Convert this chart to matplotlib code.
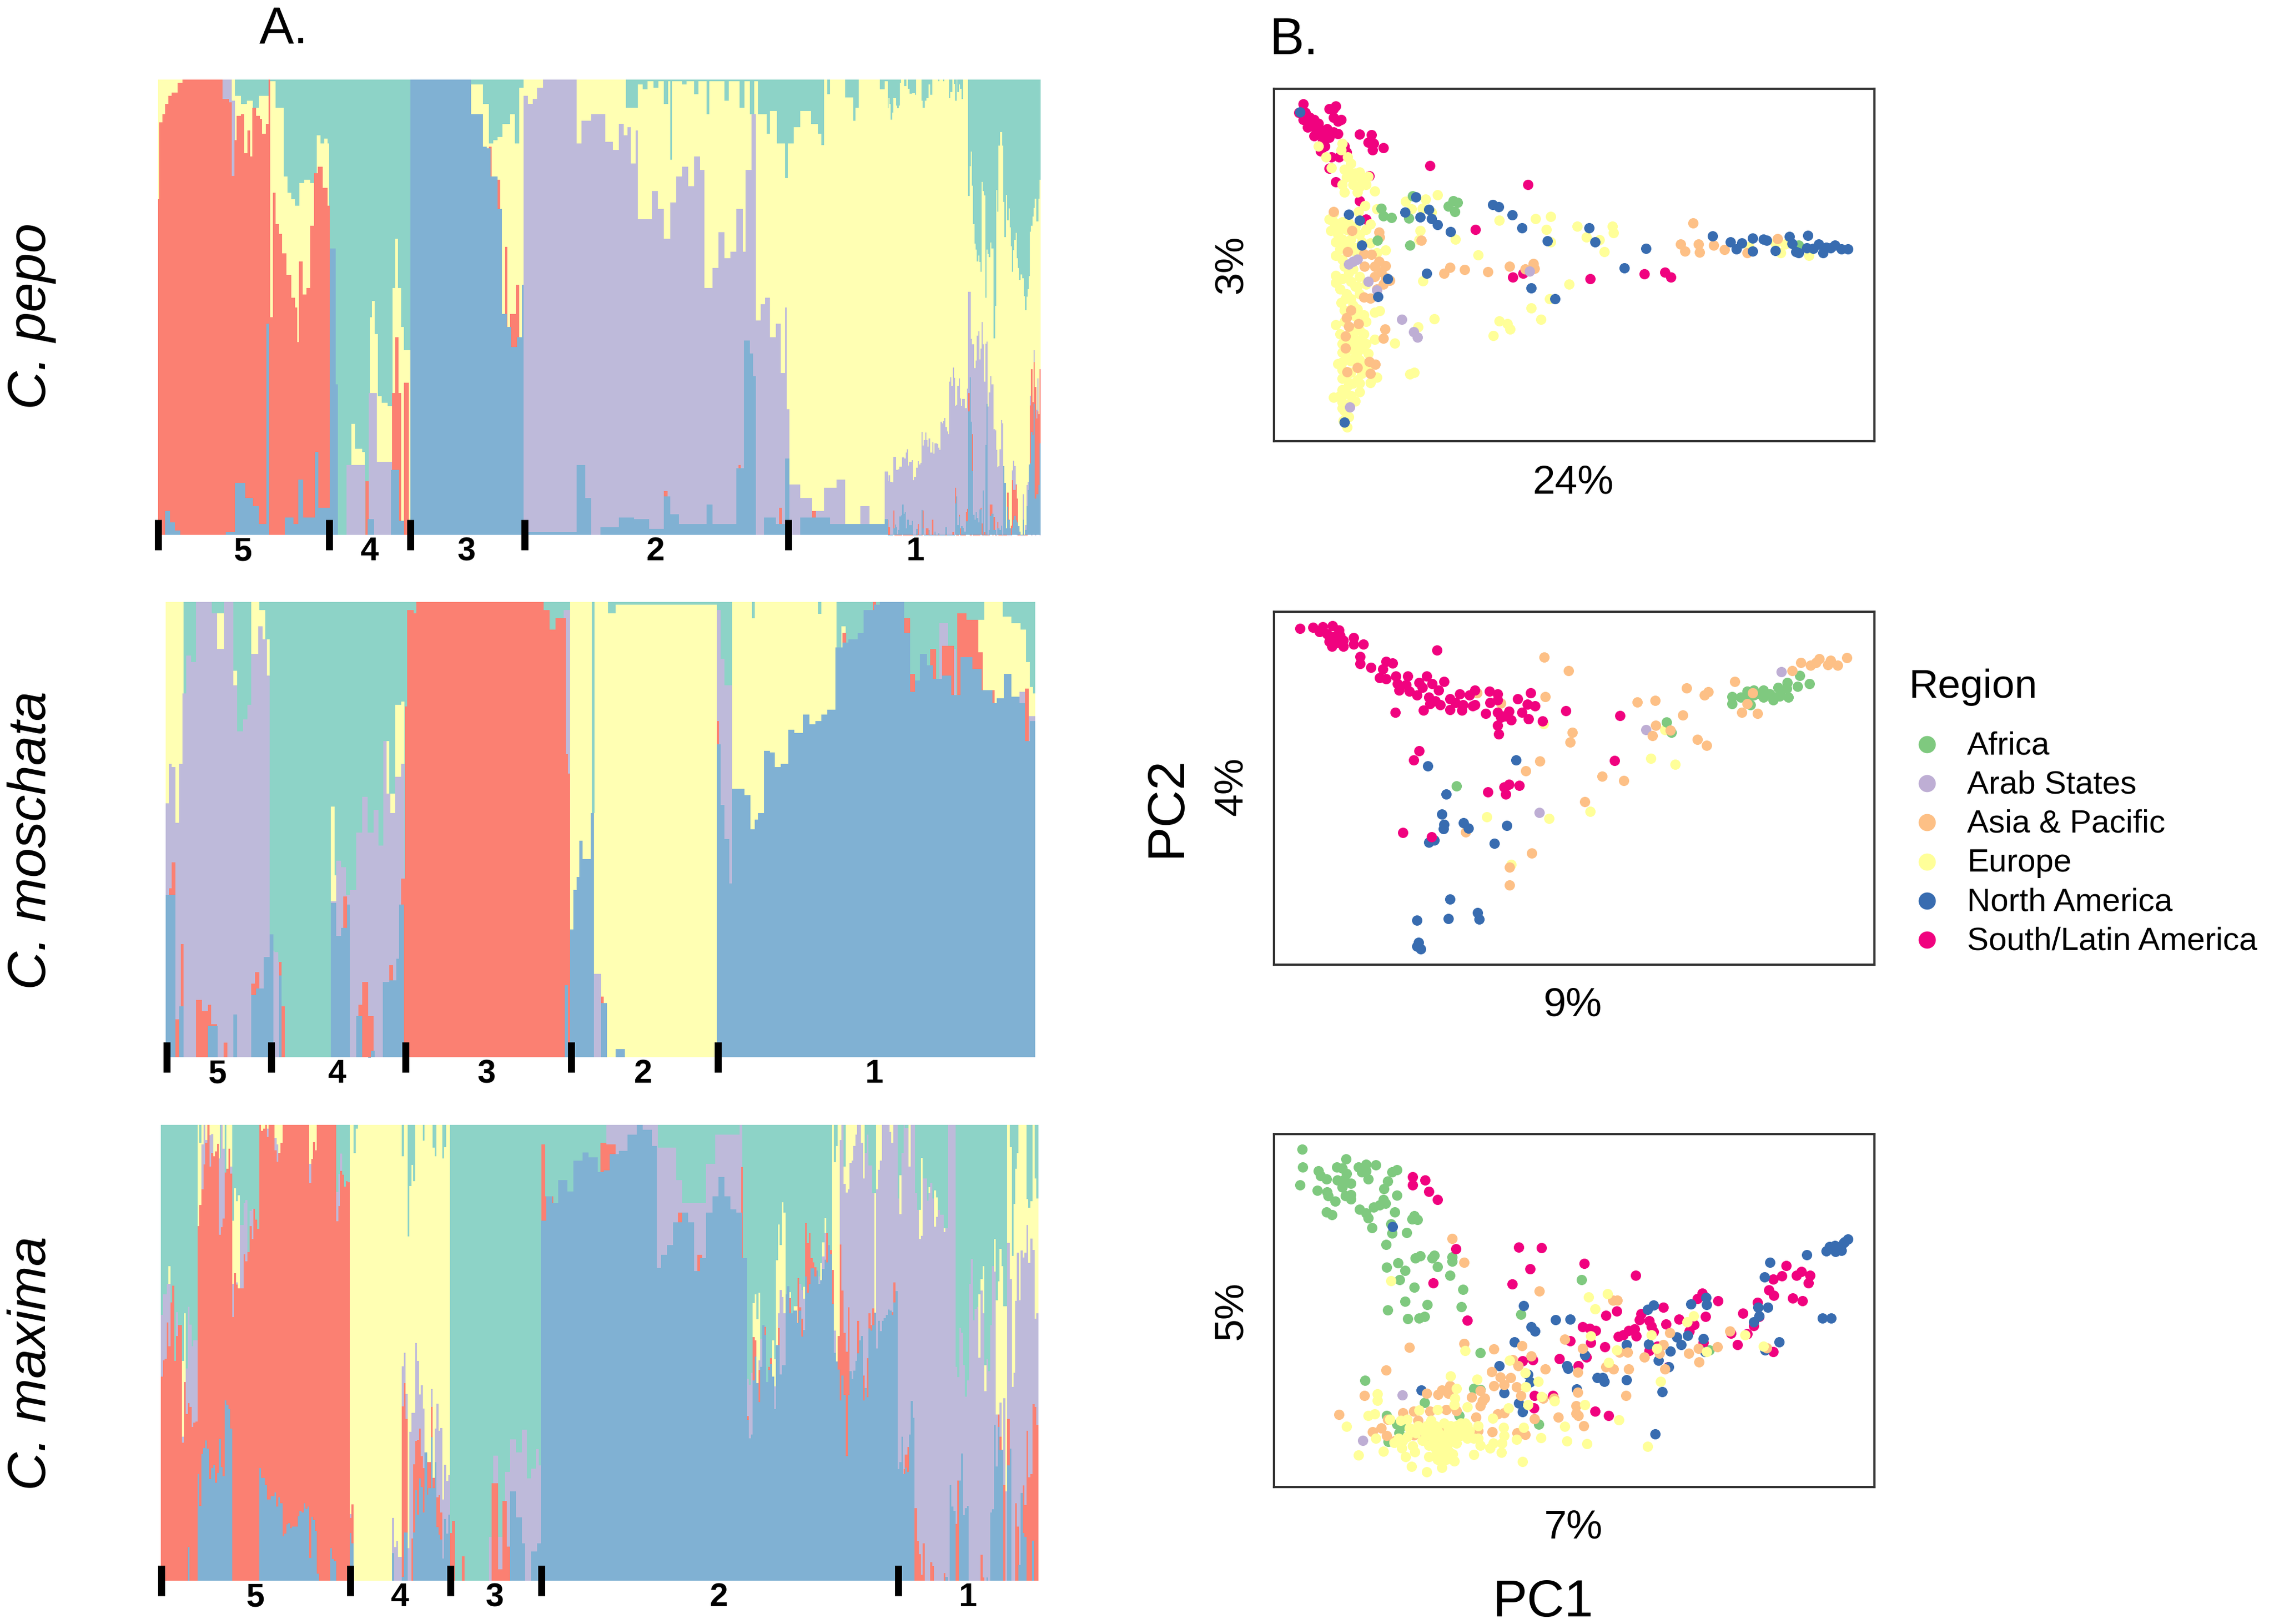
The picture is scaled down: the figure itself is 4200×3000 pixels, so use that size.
import matplotlib
matplotlib.use("Agg")
import matplotlib.pyplot as plt
import numpy as np

plt.rcParams["font.family"] = ["Liberation Sans", "DejaVu Sans"]

W, H = 4200, 3000

# colours
TEAL, YELLOW, PURPLE, SALMON, BLUE = "#8DD3C7", "#FFFFB3", "#BEBADA", "#FB8072", "#80B1D3"
regions = ["Africa", "Arab States", "Asia & Pacific", "Europe", "North America", "South/Latin America"]
region_cols = ["#7FC97F", "#BEAED4", "#FDC086", "#FFFF99", "#386CB0", "#F0027F"]

# ---- ancestry plots: upper edge of each colour (the scale runs
# downward from the top of each plot). teal fills whatever is left
pepo_yellow = [(38,45),(165,95),(175,120),(185,110),(195,130),(205,95),(222,50),(232,130),(246,340),(252,390),(258,410),(265,430),(272,360),(280,350),(290,360),(300,215),(307,240),(313,225),(318,240),(321,440),(322,1433),(358,1095),(364,1170),(376,1180),(380,1433),(388,770),(392,720),(396,820),(402,1010),(408,1030),(418,1040),(426,680),(430,530),(435,680),(440,800),(445,870),(455,1433),(556,60),(575,120),(585,240),(592,230),(600,220),(608,180),(620,150),(628,240),(635,70),(643,45),(812,130),(832,60),(840,75),(848,50),(858,70),(866,50),(875,120),(882,50),(885,290),(888,50),(905,60),(912,50),(925,90),(932,50),(945,150),(950,50),(975,110),(982,50),(1000,130),(1008,50),(1017,150),(1024,50),(1030,150),(1045,210),(1050,140),(1062,240),(1075,345),(1080,240),(1090,190),(1100,140),(1118,180),(1130,210),(1135,245),(1140,45),(1145,90),(1150,45),(1175,100),(1188,170),(1192,130),(1197,45),(1232,75),(1240,50)]
pepo_purple = [(38,1433),(145,45),(160,110),(165,1433),(322,1433),(350,1220),(380,1433),(386,1000),(400,1210),(425,1433),(643,95),(650,120),(658,105),(665,70),(675,45),(730,240),(738,170),(745,170),(755,150),(770,150),(778,235),(790,260),(800,180),(808,215),(815,190),(820,300),(828,200),(832,470),(845,470),(855,385),(865,440),(875,530),(885,420),(895,340),(905,310),(915,370),(925,280),(935,320),(942,680),(955,620),(965,510),(975,590),(985,570),(995,440),(1005,570),(1010,320),(1020,150),(1027,780),(1035,730),(1042,710),(1050,830),(1060,790),(1068,940),(1075,740),(1078,1050),(1082,1280),(1100,1320),(1120,1360),(1140,1290),(1160,1265),(1175,1400),(1200,1345),(1215,1433),(1240,1240)]
pepo_salmon = [(38,410),(40,175),(45,150),(50,120),(55,95),(60,85),(70,55),(78,45),(145,105),(155,115),(160,338),(164,230),(168,155),(175,150),(180,270),(186,200),(190,280),(194,130),(200,155),(206,165),(210,210),(216,180),(221,45),(223,770),(228,390),(232,485),(238,515),(243,575),(250,640),(258,710),(265,740),(268,845),(271,600),(277,700),(283,680),(290,490),(296,330),(302,310),(310,375),(318,430),(322,1433),(381,1270),(386,1433),(425,1000),(430,830),(436,1000),(440,1433),(445,970),(453,1433),(585,250),(590,340),(597,350),(604,1433),(612,555),(616,1433),(620,760),(630,670),(635,1433),(875,1300),(881,1433),(998,1220),(1002,1433),(1065,1350),(1070,1433),(1120,1360),(1126,1433)]
pepo_blue = [(38,1433),(50,1360),(58,1395),(66,1420),(75,1433),(150,1425),(165,1275),(182,1320),(195,1345),(205,1400),(217,790),(222,1433),(248,1380),(262,1400),(270,1265),(278,1380),(298,1180),(303,1350),(322,560),(332,975),(335,1433),(385,1385),(395,1433),(423,1235),(437,1390),(445,1433),(455,45),(556,150),(575,250),(582,255),(588,340),(600,440),(607,760),(615,800),(622,860),(632,830),(640,670),(643,1425),(730,1220),(745,1320),(755,1433),(770,1410),(800,1380),(825,1385),(850,1415),(875,1315),(885,1370),(900,1400),(945,1340),(955,1400),(995,1230),(1007,840),(1017,880),(1022,950),(1027,1433),(1040,1380),(1060,1400),(1075,1200),(1082,1433),(1100,1380),(1150,1400),(1240,1385)]
# right end of C. pepo, from a finer crop
pepo_end_yellow = [(0,110),(4,75),(10,95),(15,148),(24,125),(30,75),(44,100),(52,110),(60,100),(65,25),(72,13),(90,35),(103,13),(111,45),(119,60),(135,58),(150,65),(157,13),(186,85),(193,108),(203,85),(213,75),(226,30),(233,65),(245,13),(280,18),(286,13),(305,18),(312,13),(338,75),(346,55),(358,13),(365,28),(372,85),(380,13),(384,55),(392,30),(400,45),(407,78),(417,13),(445,405),(453,305),(460,255),(466,370),(472,500),(479,565),(486,585),(492,625),(500,605),(507,627),(512,660),(519,358),(525,388),(532,403),(540,748),(546,585),(552,600),(559,612),(566,562),(573,582),(585,885),(593,775),(600,385),(606,458),(613,235),(620,190),(632,235),(640,425),(646,543),(653,402),(660,487),(668,448),(674,510),(681,575),(688,660),(694,587),(700,553),(707,530),(714,615),(720,648),(727,687),(735,670),(745,682),(753,742),(760,790),(767,745),(774,718),(780,675),(786,525),(793,505),(800,475),(807,445),(814,415),(821,490),(835,415),(840,350)]
pepo_end_purple = [(0,1365),(4,1345),(12,1367),(24,1370),(30,1283),(44,1327),(56,1325),(64,1317),(79,1285),(90,1290),(98,1270),(104,1258),(111,1313),(118,1300),(132,1295),(139,1362),(145,1352),(157,1320),(165,1298),(172,1310),(179,1303),(186,1200),(193,1245),(199,1228),(206,1202),(213,1228),(219,1250),(226,1222),(233,1270),(245,1235),(252,1273),(259,1238),(272,1240),(279,1252),(285,1260),(292,1165),(299,1170),(305,1163),(312,1153),(319,1183),(326,1198),(332,1208),(339,1030),(346,1015),(352,1045),(359,983),(365,1017),(372,1112),(379,1108),(385,1045),(392,1020),(399,1087),(405,1113),(412,1088),(425,1120),(437,1055),(445,727),(458,887),(465,905),(478,985),(485,960),(492,875),(500,860),(506,955),(513,920),(519,830),(526,905),(532,1030),(540,903),(546,895),(552,1115),(559,1067),(566,1012),(573,1040),(585,1190),(593,1195),(600,1260),(606,1318),(613,1315),(619,1258),(627,1160),(633,1170),(640,1548),(686,1330),(693,1297),(700,1315),(707,1375),(714,1548),(746,1410),(753,1548),(760,1513),(767,1378),(774,1368),(786,1077),(793,1548),(800,1105),(807,925),(814,1548),(821,1125),(827,1020),(833,1140),(840,1548)]
pepo_end_salmon = [(0,1495),(4,1520),(12,1548),(30,1465),(36,1548),(79,1447),(84,1548),(165,1510),(170,1548),(192,1465),(198,1548),(210,1525),(226,1548),(243,1495),(252,1548),(358,1538),(365,1548),(372,1387),(379,1548),(392,1478),(399,1525),(405,1548),(433,1470),(438,1458),(445,1068),(453,1548),(465,1207),(471,1548),(513,1455),(519,1508),(525,1548),(532,1538),(540,1548),(565,1445),(579,1548),(586,1487),(593,1548),(606,1502),(613,1548),(660,1405),(668,1548),(672,1525),(680,1515),(687,1362),(694,1395),(707,1378),(714,1425),(721,1548),(774,1400),(780,1347),(786,1110),(793,988),(800,1100),(807,965),(814,1048),(821,1155),(827,1130),(833,1140),(840,988)]
pepo_end_blue = [(0,1548),(30,1525),(38,1512),(46,1520),(52,1545),(58,1530),(64,1485),(72,1480),(79,1445),(86,1475),(92,1470),(98,1525),(105,1495),(118,1513),(132,1498),(138,1548),(156,1527),(165,1548),(186,1462),(192,1525),(198,1548),(224,1530),(231,1548),(258,1535),(265,1548),(278,1540),(284,1548),(319,1520),(326,1548),(372,1440),(379,1417),(385,1513),(392,1485),(399,1548),(406,1518),(413,1522),(420,1535),(432,1500),(445,1130),(453,1015),(459,1165),(465,1332),(471,1478),(479,1495),(486,1470),(493,1490),(500,1505),(507,1460),(519,1548),(525,1397),(532,1548),(540,1243),(546,1105),(552,1548),(558,1530),(565,1483),(572,1475),(586,1530),(599,1548),(606,1525),(619,1530),(628,1515),(634,1548),(640,1315),(646,1372),(653,1525),(660,1452),(667,1495),(674,1525),(681,1548),(687,1522),(694,1495),(700,1482),(707,1497),(714,1505),(721,1518),(728,1535),(735,1548),(746,1495),(753,1548),(760,1530),(767,1450),(774,1395),(780,1310),(786,1305),(793,1200),(800,1210),(807,1105),(814,1425),(821,1410),(833,1378),(840,1238)]
pepo_ticks = [38, 321, 455, 644, 1081]
pepo_mid = [178, 387, 548, 861, 1290]

mosch_yellow = [(50,36),(80,1425),(125,70),(147,1425),(162,245),(168,1425),(192,36),(205,60),(215,150),(222,1425),(323,660),(330,870),(335,825),(340,1425),(365,745),(372,785),(378,1425),(415,460),(420,620),(430,350),(440,340),(445,1425),(709,265),(716,1425),(719,36),(755,680),(760,36),(782,70),(795,45),(962,1425),(987,36),(1020,85),(1025,36),(1130,72),(1135,36),(1160,1425),(1168,110),(1175,1425),(1282,275),(1290,1425),(1390,90),(1405,36),(1435,80),(1450,100),(1465,120),(1474,220),(1480,295),(1485,315)]
mosch_purple = [(50,650),(55,530),(60,540),(66,710),(72,530),(78,315),(84,200),(92,220),(100,36),(126,70),(135,180),(147,36),(162,290),(168,430),(178,395),(185,350),(192,195),(203,110),(210,150),(218,260),(222,1100),(230,1105),(236,1135),(240,1425),(323,950),(332,825),(340,845),(348,930),(355,915),(365,740),(375,630),(384,740),(394,670),(402,780),(410,460),(416,620),(422,680),(430,570),(440,530),(445,1425),(709,60),(719,1425),(759,1170),(770,1425),(962,60),(968,210),(975,290),(987,1425),(1330,100),(1345,180),(1358,1425),(1455,1425),(1463,310),(1472,1425),(1478,385)]
mosch_salmon = [(50,1425),(55,910),(60,830),(66,1310),(72,1425),(75,1080),(80,1425),(100,1250),(110,1285),(120,1265),(125,1325),(135,1425),(146,1380),(152,1425),(192,1200),(198,1165),(205,1425),(237,1135),(242,1270),(247,1425),(344,935),(350,1425),(369,1265),(375,1195),(385,1300),(394,1425),(420,1145),(426,1425),(440,880),(446,355),(450,60),(460,70),(465,36),(668,36),(675,60),(685,120),(695,85),(709,85),(712,500),(716,560),(719,1425),(770,1240),(775,1425),(800,1410),(806,1425),(962,400),(966,1425),(978,860),(983,1425),(1170,130),(1176,1425),(1220,36),(1226,1425),(1272,85),(1282,255),(1290,1425),(1315,180),(1325,1425),(1335,170),(1355,1425),(1360,70),(1375,90),(1395,190),(1402,1425),(1415,305),(1422,1425),(1472,300),(1478,1425)]
mosch_blue = [(50,930),(66,1425),(72,1270),(80,1425),(120,1330),(136,1425),(162,1295),(168,1425),(192,1235),(200,1215),(212,1120),(222,1050),(228,1425),(237,1175),(242,1425),(323,955),(332,1055),(340,1030),(350,960),(355,1425),(365,1300),(375,1425),(385,1430),(390,1405),(396,1425),(409,1195),(420,1190),(432,1125),(436,960),(444,1425),(710,1205),(716,1425),(719,1035),(725,915),(730,875),(735,765),(740,820),(753,680),(759,1425),(770,1260),(780,1425),(795,1400),(810,1425),(962,470),(968,655),(975,760),(983,895),(987,605),(1008,625),(1018,730),(1025,700),(1030,680),(1040,490),(1050,495),(1058,540),(1068,530),(1080,425),(1090,435),(1105,380),(1115,410),(1125,400),(1135,380),(1145,365),(1158,175),(1170,160),(1180,150),(1195,130),(1205,60),(1222,45),(1232,36),(1272,130),(1282,310),(1290,275),(1298,195),(1310,230),(1320,270),(1335,260),(1350,320),(1365,205),(1385,240),(1400,305),(1418,345),(1425,330),(1437,255),(1450,325),(1463,345),(1472,460),(1480,400)]
mosch_ticks = [52, 225, 447, 721, 964]
mosch_mid = [135, 333, 581, 840, 1222]

maxi_left_yellow = [(20,1550),(60,490),(70,1550),(130,810),(142,650),(152,1550),(190,745),(203,1550),(214,15),(222,75),(235,15),(265,1550),(275,15),(330,1550),(345,15),(355,1550),(365,15),(395,338),(405,228),(415,272),(425,252),(436,1550),(540,15),(945,1550),(1015,15),(1035,110),(1045,28),(1057,15),(1290,120),(1300,15),(1320,390),(1330,220),(1340,150),(1350,205),(1360,15),(1400,67),(1410,15),(1452,92),(1462,120),(1472,15),(1502,128),(1512,90),(1522,15),(1544,1550)]
maxi_left_purple = [(20,655),(30,585),(50,550),(70,612),(80,1550),(100,645),(110,1550),(130,1065),(142,880),(152,835),(162,628),(172,688),(182,760),(192,740),(214,1550),(235,80),(245,15),(255,65),(265,1550),(275,50),(285,45),(295,1550),(325,128),(335,15),(345,95),(355,1550),(385,155),(395,550),(405,1550),(415,545),(425,1550),(436,352),(456,278),(466,268),(476,1550),(488,305),(498,298),(506,1550),(580,28),(588,1550),(620,58),(630,80),(640,1550),(680,15),(690,1550),(730,15),(740,1550),(800,145),(812,1550),(945,240),(955,180),(965,112),(975,1550),(1015,1325),(1025,1550),(1238,1338),(1248,1437),(1260,1417),(1270,1470),(1288,828),(1300,783),(1310,920),(1320,1440),(1330,1048),(1340,985),(1360,750),(1370,810),(1380,922),(1390,892),(1400,970),(1410,1550),(1442,905),(1452,1550),(1462,1038),(1472,953),(1482,1045),(1492,1035),(1502,1277),(1512,1160),(1522,1215),(1534,1195),(1544,1550)]
maxi_left_salmon = [(20,863),(30,807),(40,802),(50,680),(60,760),(70,612),(80,557),(90,810),(100,725),(110,690),(130,1085),(142,880),(152,988),(162,952),(172,965),(182,1033),(192,1018),(202,1013),(214,355),(222,285),(235,232),(245,148),(255,75),(265,15),(275,155),(285,110),(295,120),(305,103),(315,78),(325,385),(335,360),(345,330),(355,175),(365,163),(375,95),(385,178),(395,662),(405,515),(415,553),(425,566),(456,450),(466,475),(476,443),(488,355),(498,400),(506,298),(516,333),(526,365),(540,15),(548,35),(558,27),(570,15),(580,55),(588,15),(620,100),(630,138),(640,110),(650,75),(660,15),(800,210),(812,130),(822,72),(832,100),(842,15),(945,340),(955,288),(965,170),(975,183),(985,222),(995,205),(1005,208),(1015,1338),(1025,1293),(1035,1550),(1288,962),(1300,885),(1310,1005),(1320,1550),(1340,1408),(1350,1158),(1360,1080),(1370,1075),(1380,1038),(1390,1130),(1400,1170),(1410,1150),(1442,965),(1452,1203),(1462,1550),(1470,1270),(1482,1262),(1492,1320),(1502,1550),(1544,1390),(1554,1350)]
maxi_left_blue = [(20,1550),(162,1437),(172,1550),(213,1190),(223,1298),(233,1123),(243,1103),(253,1078),(263,1105),(273,1208),(285,1170),(295,1160),(305,1220),(315,1188),(325,1072),(335,1167),(345,1198),(355,943),(365,958),(375,972),(385,1037),(395,1550),(540,1170),(548,1203),(568,1228),(578,1277),(598,1265),(618,1252),(628,1300),(638,1270),(648,1290),(660,1400),(670,1392),(680,1360),(690,1357),(700,1373),(710,1367),(740,1333),(750,1315),(760,1320),(772,1290),(782,1307),(792,1300),(802,1473),(812,1335),(822,1345),(832,1383),(842,1527),(852,1550),(912,1440),(922,1478),(932,1485),(945,1550),(1015,1390),(1025,1425),(1035,1550),(1238,1457),(1248,1550),(1288,1538),(1300,1388),(1320,1550),(1350,1388),(1360,1245),(1370,1328),(1380,1205),(1390,1235),(1400,1320),(1410,1118),(1422,1260),(1430,1238),(1442,1067),(1452,1238),(1462,1150),(1472,1370),(1482,1395),(1492,1412),(1502,1475),(1512,1343),(1522,1392),(1534,1328),(1544,1550)]

maxi_mid_yellow = [(529,1435)]
maxi_mid_purple = [(529,1435),(585,1300),(592,1050),(600,1300),(612,1100),(620,1000),(630,1040),(640,970),(648,1120),(655,1090),(663,1030),(668,1080),(671,1435),(780,30),(860,30),(865,100),(895,200),(905,270),(945,150),(960,60),(1000,30),(1005,1435)]
maxi_mid_salmon = [(529,1435),(540,1360),(545,1435),(590,1135),(600,1400),(608,1190),(615,1330),(620,1435),(672,90),(678,250),(692,330),(700,1435),(770,85),(780,90),(795,120),(800,1435),(898,300),(908,610),(915,1435),(930,430),(938,480),(943,1435),(1003,160),(1006,1435)]
maxi_mid_blue = [(529,1435),(608,1435),(620,1160),(630,1240),(640,1320),(645,1435),(655,1345),(665,1320),(671,325),(680,250),(690,270),(700,200),(715,235),(725,140),(740,115),(750,130),(765,175),(775,170),(785,120),(800,110),(815,60),(830,30),(840,45),(855,95),(863,470),(870,430),(880,400),(890,330),(905,300),(915,330),(925,480),(935,440),(945,300),(955,250),(965,190),(975,250),(985,290),(995,300),(1005,440)]

maxi_right_yellow = [(0,1550),(30,615),(40,585),(50,670),(60,580),(70,1550),(133,740),(143,805),(153,470),(163,350),(173,420),(183,275),(193,310),(203,1550),(222,578),(233,1550),(246,625),(265,1550),(295,560),(305,1550),(385,480),(395,410),(408,328),(416,1550),(448,15),(458,140),(468,85),(478,15),(498,1550),(508,155),(520,15),(620,1550),(670,245),(680,15),(795,1550),(803,185),(813,1550),(825,15),(832,1550),(850,15),(862,1550),(905,300),(915,125),(925,1550),(955,225),(965,1550),(985,235),(995,258),(1005,1550),(1035,362),(1045,1550),(1220,585),(1230,535),(1240,490),(1250,825),(1260,1550),(1300,400),(1310,605),(1320,542),(1330,432),(1342,490),(1350,625),(1370,15),(1385,90),(1395,455),(1403,280),(1412,163),(1422,110),(1431,15),(1472,265),(1482,293),(1492,272),(1505,15),(1515,195),(1525,262)]
maxi_right_purple = [(0,870),(10,890),(20,850),(30,1550),(60,808),(70,735),(80,690),(92,1550),(143,895),(153,1550),(163,650),(173,570),(183,595),(193,650),(203,1550),(265,530),(275,550),(285,570),(295,600),(305,1550),(376,525),(385,1550),(395,458),(408,380),(416,1550),(458,708),(468,1550),(488,65),(498,15),(508,213),(520,242),(530,232),(540,143),(550,135),(560,85),(570,47),(580,15),(600,75),(610,195),(620,110),(630,47),(640,152),(660,245),(670,1550),(680,232),(690,165),(700,135),(710,15),(750,38),(760,75),(772,15),(795,262),(803,315),(813,110),(825,15),(832,25),(850,155),(862,15),(885,245),(895,300),(905,400),(915,388),(925,195),(948,270),(955,245),(965,210),(975,262),(985,358),(995,325),(1005,300),(1015,318),(1035,375),(1045,362),(1058,15),(1098,830),(1108,865),(1118,698),(1128,715),(1138,825),(1148,930),(1158,875),(1170,550),(1180,467),(1190,672),(1200,635),(1210,628),(1220,798),(1230,572),(1240,650),(1250,912),(1260,805),(1270,845),(1280,690),(1290,490),(1300,508),(1310,990),(1330,950),(1340,1110),(1350,935),(1360,1250),(1370,412),(1385,535),(1395,898),(1403,850),(1412,608),(1422,445),(1432,605),(1442,438),(1452,462),(1462,445),(1472,352),(1482,480),(1492,398),(1505,435),(1515,668),(1525,650)]
maxi_right_salmon = [(0,995),(10,1550),(30,730),(40,740),(50,915),(60,840),(70,1550),(92,695),(102,1550),(112,830),(122,800),(132,1550),(163,698),(173,1550),(222,598),(233,1550),(265,530),(275,630),(285,667),(295,705),(305,345),(315,412),(325,380),(335,463),(345,478),(355,495),(365,1550),(416,380),(427,1550),(437,435),(448,503),(458,1550),(478,725),(488,418),(498,572),(508,715),(520,778),(530,630),(540,1550),(580,675),(590,1550),(610,858),(620,1550),(630,800),(640,650),(650,690),(660,632),(670,1550),(760,645),(772,545),(783,1550),(825,1175),(832,1125),(845,1100),(853,1550),(883,1305),(895,1417),(905,1460),(915,1530),(925,1425),(935,1550),(965,1488),(975,1500),(985,1550),(1035,1525),(1045,1550),(1098,1358),(1108,1212),(1118,1550),(1230,1463),(1240,1540),(1250,1550),(1320,990),(1330,1065),(1340,1550),(1350,1228),(1360,1550),(1370,1005),(1383,1550),(1412,1290),(1422,1367),(1432,1550),(1452,1230),(1462,1295),(1472,1045),(1482,1202),(1492,1190),(1505,955),(1515,965),(1525,1025)]
maxi_right_blue = [(0,1008),(10,1070),(20,1058),(30,875),(40,795),(50,885),(60,948),(70,830),(80,690),(92,722),(102,880),(112,840),(122,820),(132,862),(143,972),(153,757),(173,855),(183,825),(203,585),(213,558),(223,650),(243,640),(263,682),(273,640),(285,728),(295,705),(305,525),(315,580),(325,550),(335,497),(355,525),(365,505),(375,550),(385,538),(395,500),(408,468),(416,478),(427,420),(437,450),(448,618),(458,783),(468,812),(478,838),(488,942),(498,858),(508,925),(520,1130),(530,925),(540,845),(550,870),(560,842),(570,810),(580,785),(590,740),(600,725),(610,942),(620,900),(630,932),(640,700),(650,708),(660,690),(670,648),(680,768),(690,675),(700,710),(710,675),(720,665),(732,655),(742,637),(752,640),(762,655),(772,613),(783,575),(793,1175),(803,1150),(813,1065),(823,1190),(833,1168),(843,1183),(853,1057),(863,945),(873,1002),(883,1550),(1045,1537),(1058,1550),(1067,1228),(1077,1300),(1087,1315),(1098,1550),(1117,1213),(1128,1122),(1138,1330),(1148,1305),(1158,1298),(1168,1550),(1260,1540),(1270,1550),(1280,1320),(1290,1310),(1300,1025),(1310,1165),(1320,1033),(1330,1110),(1340,1108),(1350,1550),(1370,1162),(1383,1105),(1393,1550),(1430,1498),(1442,1255),(1452,1390),(1462,1402),(1472,1550),(1502,1415),(1512,1550)]
maxi_ticks = [43, 356, 522, 672, 1263]
maxi_mid = [198, 437, 595, 966, 1378]

# ---- PCA scores, picture units because the axes carry no scale
pc1_pink = [(135,135),(125,170),(140,170),(135,200),(150,190),(160,200),(145,230),(170,215),(175,240),(160,265),(185,260),(205,250),(215,255),(195,270),(180,285),(205,155),(195,155),(210,145),(205,190),(222,200),(215,205),(265,258),(292,260),(285,290),(298,295),(295,320),(320,312),(235,330),(175,325),(200,350),(218,350),(195,395),(288,425),(210,450),(428,385),(655,460),(265,525),(280,600),(533,640),(620,832),(643,818),(799,840),(924,820),(972,812),(986,833),(170,255),(185,305),(230,305),(190,235),(150,215),(165,240)]
pc1_blue = [(127,168),(395,510),(240,580),(265,605),(370,572),(425,560),(405,590),(432,598),(445,622),(476,650),(573,540),(587,550),(618,583),(641,635),(797,635),(700,687),(810,690),(928,717),(878,795),(421,817),(662,875),(717,920),(1082,668),(1124,690),(1150,695),(1175,675),(1200,680),(1208,685),(1260,670),(1267,697),(1303,665),(1138,720),(1175,727),(1228,726),(1275,730),(1282,735),(1300,715),(1315,718),(1328,700),(1338,735),(1345,712),(1365,705),(1380,720),(1395,720),(1355,715),(230,1415),(308,910),(330,840),(270,705)]
pc1_green = [(388,505),(482,525),(470,548),(492,533),(486,570),(315,555),(320,587),(339,593),(379,596),(382,705),(307,685),(1282,703)]
pc1_arab = [(250,770),(240,780),(260,760),(285,850),(305,885),(363,1002),(390,1052),(399,1075),(243,1355),(658,808)]
pc1_orange = [(205,570),(248,645),(310,652),(312,672),(408,685),(237,730),(275,738),(293,740),(310,770),(276,790),(300,790),(325,787),(315,810),(300,830),(325,835),(335,845),(320,860),(305,880),(275,912),(290,918),(474,793),(461,818),(508,803),(562,810),(612,790),(648,800),(667,777),(670,797),(245,965),(235,995),(240,1030),(262,1020),(324,1042),(320,1078),(232,1070),(233,1118),(287,1172),(302,1183),(260,1195),(236,1213),(290,1220),(1037,615),(1008,700),(1018,728),(1050,700),(1052,732),(1085,705),(1110,722),(1162,735),(1233,677)]
pc1_yellow = [(225,295),(170,305),(222,320),(187,350),(238,350),(200,393),(245,375),(240,405),(255,415),(235,430),(270,440),(285,428),(250,460),(280,460),(230,490),(260,490),(300,487),(445,502),(372,527),(418,518),(385,558),(410,555),(432,572),(305,558),(278,545),(262,570),(205,575),(195,600),(225,610),(240,615),(290,620),(198,645),(215,660),(280,640),(265,660),(225,680),(245,680),(270,690),(290,695),(405,645),(403,682),(487,680),(588,605),(673,598),(708,588),(697,640),(708,690),(769,628),(790,672),(820,683),(850,627),(853,655),(831,730),(540,743),(220,720),(210,745),(260,740),(325,723),(305,735),(230,790),(210,825),(240,815),(265,830),(210,855),(245,850),(280,860),(220,880),(260,870),(412,848),(750,860),(705,920),(662,957),(685,1002),(589,1008),(607,1020),(614,1042),(574,1068),(438,1000),(400,1033),(347,1098),(300,975),(312,968),(233,920),(222,935),(250,945),(255,990),(275,985),(210,1025),(265,1045),(245,1042),(220,1060),(275,1060),(300,1083),(225,1100),(255,1105),(280,1100),(225,1135),(260,1135),(285,1140),(215,1180),(245,1170),(275,1180),(225,1205),(285,1205),(225,1240),(260,1245),(305,1235),(290,1258),(240,1265),(225,1285),(265,1295),(245,1310),(205,1315),(225,1335),(230,1370),(240,1395),(228,1410),(236,1435),(382,1222),(392,1215),(1166,710),(1228,695),(1250,700),(1240,735),(1275,712),(1305,745),(230,400),(250,430),(265,410),(225,460),(265,470),(205,610),(215,630),(235,640),(255,630),(210,690),(235,705),(255,715),(225,760),(250,800),(225,840),(255,870),(235,900),(265,900),(245,920),(230,965),(260,960),(230,1010),(280,1010),(250,1075),(235,1090),(265,1085),(240,1125),(270,1120),(255,1155),(235,1160),(225,1175),(265,1165),(245,1215),(270,1220),(235,1230),(250,1260),(265,1260),(220,1310),(235,1300),(255,1330),(225,1360),(240,1345)]

pc2_pink = [(84,132),(103,128),(118,125),(133,122),(143,140),(113,145),(125,155),(135,165),(145,160),(128,185),(140,190),(150,180),(165,170),(165,195),(180,195),(132,205),(150,205),(292,220),(175,245),(175,275),(192,290),(215,265),(225,272),(210,295),(205,330),(215,335),(230,325),(248,325),(232,355),(245,360),(265,350),(277,325),(303,345),(285,355),(235,380),(250,385),(270,370),(295,380),(262,400),(280,410),(290,425),(312,415),(282,435),(297,440),(327,395),(350,380),(342,400),(372,385),(385,395),(415,415),(435,392),(430,437),(442,445),(320,430),(332,440),(350,440),(373,430),(385,420),(312,460),(330,462),(347,445),(367,475),(385,470),(402,465),(395,485),(405,500),(422,470),(432,497),(390,490),(385,522),(453,505),(386,558),(229,470),(272,462),(489,463),(571,483),(265,625),(257,662),(563,664),(395,770),(402,760),(418,764),(370,790),(397,800),(240,953),(284,970)]
pc2_blue = [(278,685),(413,662),(306,800),(300,880),(303,920),(302,938),(333,915),(340,937),(399,926),(288,983),(280,992),(380,998),(312,1222),(354,1275),(357,1302),(310,1300),(262,1307),(264,1395),(262,1412),(268,1422)]
pc2_green = [(845,322),(826,350),(842,365),(860,355),(742,408),(742,435),(755,410),(765,385),(775,380),(765,420),(775,400),(790,380),(790,410),(800,395),(812,370),(805,420),(815,395),(825,375),(828,410),(815,405),(785,395),(642,510),(650,550),(322,767),(770,440)]
pc2_arab = [(817,307),(611,540),(448,872)]
pc2_orange = [(456,247),(493,302),(353,392),(457,408),(390,432),(673,372),(700,400),(706,388),(746,346),(773,392),(765,435),(757,470),(781,475),(598,428),(625,422),(667,482),(626,522),(648,542),(621,563),(689,580),(703,602),(499,550),(495,590),(449,667),(428,706),(544,728),(577,745),(518,830),(336,952),(437,1037),(403,1092),(403,1165),(834,302),(847,270),(862,280),(875,255),(870,270),(888,278),(892,262),(903,280),(917,250)]
pc2_yellow = [(455,515),(640,540),(618,655),(655,680),(526,868),(463,898),(368,891),(405,1082)]

pc3_green = [(132,138),(133,210),(127,282),(170,225),(175,245),(188,258),(167,303),(190,310),(192,325),(209,347),(213,210),(234,178),(225,215),(235,235),(262,210),(280,200),(303,202),(270,230),(280,225),(285,257),(340,230),(351,220),(330,267),(322,298),(351,323),(214,262),(230,260),(245,275),(225,290),(232,325),(245,320),(245,338),(188,390),(201,402),(265,380),(280,395),(297,372),(312,362),(320,340),(325,355),(285,415),(346,391),(386,418),(392,405),(399,421),(294,453),(338,438),(340,476),(374,473),(327,521),(394,576),(405,568),(433,575),(438,565),(479,572),(479,588),(446,610),(328,612),(354,596),(370,625),(358,662),(391,694),(474,645),(505,703),(370,749),(422,762),(501,771),(330,785),(377,820),(403,817),(416,810),(779,662),(638,802),(545,957),(278,1067),(530,1100),(545,1105),(416,1157),(328,1210),(496,1210),(352,1245),(362,1252),(357,1280),(332,1315),(680,1244),(1075,947)]
pc3_pink = [(388,250),(388,282),(417,263),(425,308),(446,341),(488,538),(634,532),(686,534),(785,598),(660,620),(904,646),(618,680),(435,677),(515,827),(1253,607),(1243,648),(1222,660),(1276,645),(1288,630),(1308,645),(1304,675),(1212,705),(1224,727),(1268,736),(1290,748),(1186,755),(1058,718),(1047,738),(1095,747),(968,775),(1066,812),(1152,798),(917,800),(913,823),(936,828),(940,850),(860,789),(835,807),(975,842),(1005,822),(1040,843),(1028,870),(782,852),(798,858),(812,867),(945,873),(902,860),(905,890),(888,868),(876,885),(864,892),(1125,878),(1162,880),(1177,847),(1190,812),(753,908),(800,915),(833,933),(1061,915),(935,948),(955,930),(1140,924),(1223,953),(727,980),(790,975),(642,990),(666,985),(772,1010),(980,1013),(712,1128),(670,1130),(668,1180),(810,1193),(842,1209),(415,1302)]
pc3_blue = [(1395,500),(1385,515),(1300,562),(1345,547),(1353,530),(1365,525),(1367,550),(1381,545),(1388,510),(1215,594),(1203,652),(1337,817),(1357,817),(1210,773),(1187,775),(1190,808),(1178,832),(1067,735),(1068,762),(1032,761),(946,765),(932,783),(645,768),(719,823),(752,821),(662,852),(671,870),(1000,893),(1024,887),(1009,925),(1061,900),(883,925),(934,922),(985,950),(624,913),(787,966),(957,988),(1237,914),(1204,945),(1065,952),(745,1010),(747,1020),(588,1010),(981,1013),(815,1056),(828,1058),(831,1072),(883,1065),(655,1043),(660,1075),(768,1103),(966,1113),(408,1108),(600,1117),(634,1159),(642,1195),(950,1283),(342,450)]
pc3_orange = [(479,498),(507,593),(681,708),(851,745),(862,745),(380,936),(507,920),(576,941),(641,928),(740,903),(781,940),(867,955),(885,955),(968,925),(983,877),(1122,870),(1093,933),(1050,940),(1027,960),(960,960),(924,975),(1051,993),(972,1023),(662,970),(620,985),(632,1010),(695,1022),(770,1035),(835,1013),(853,1022),(888,1022),(326,1027),(571,1033),(591,1055),(615,1058),(576,1089),(600,1085),(628,1095),(638,1128),(276,1130),(420,1120),(447,1125),(455,1108),(474,1090),(470,1120),(525,1135),(545,1110),(550,1150),(555,1140),(545,1170),(690,1140),(715,1140),(770,1115),(882,1130),(766,1170),(766,1200),(772,1210),(725,1215),(670,1222),(784,1250),(218,1206),(365,1198),(390,1193),(428,1192),(465,1185),(490,1190),(585,1202),(600,1198),(295,1274),(315,1260),(328,1290),(390,1287),(345,1312),(450,1275),(540,1270),(572,1274),(630,1280),(648,1285),(535,1215),(1208,937),(330,1225),(400,1230)]
pc3_arab = [(364,1127),(273,1309)]
pc3_yellow = [(795,733),(839,720),(810,780),(1038,808),(1023,833),(800,890),(940,885),(860,945),(953,940),(1158,885),(1200,930),(1069,953),(338,667),(510,948),(612,987),(648,1037),(679,1072),(841,996),(962,1072),(475,1050),(537,1063),(490,1100),(650,1095),(686,1133),(716,1150),(486,1140),(484,1165),(786,1166),(655,1165),(610,1180),(866,1228),(307,1122),(307,1148),(300,1204),(285,1209),(235,1252),(403,1187),(445,1185),(515,1175),(573,1220),(540,1250),(598,1257),(645,1257),(740,1253),(600,1290),(685,1298),(628,1305),(745,1311),(791,1323),(932,1334),(642,1395),(594,1358),(567,1340),(530,1366),(320,1353),(262,1368),(303,1300),(345,1318),(365,1310),(363,1340),(388,1332),(393,1355),(371,1375),(385,1415),(421,1435),(456,1418),(425,1375),(485,1393),(480,1365),(465,1385),(445,1385),(440,1340),(470,1350),(490,1320),(500,1290),(515,1300),(545,1330),(575,1320),(595,1320),(420,1290),(450,1300),(410,1270),(430,1230),(460,1240),(490,1250),(515,1250),(400,1250),(375,1225),(335,1225),(360,1230),(470,1270),(480,1300),(410,1310),(440,1250),(420,1250),(475,1250),(500,1240),(520,1270),(430,1270),(445,1270),(490,1280),(505,1270),(460,1290),(435,1300),(450,1320),(470,1320),(455,1340),(490,1300),(445,1360),(470,1370),(480,1385),(460,1365),(440,1370),(425,1330),(510,1240),(530,1300),(380,1260),(395,1280),(355,1300),(375,1295),(540,1300)]


def crop_to_panel(pts, x0):
    # the finer crops have their own scale, bring them onto the panel's
    return [(x0 + x * 0.3143, 16.7 + y * 0.915) for x, y in pts]


def end_to_panel(pts):
    return [(1245.4 + x * 0.2987, 33 + y * 0.9054) for x, y in pts]


def px_axes(fig, left, top, right, bottom):
    return fig.add_axes([left / W, 1 - bottom / H, (right - left) / W, (bottom - top) / H])


def ancestry(fig, box, xlim, ylim, layers, ticks, mids):
    ax = px_axes(fig, *box)
    ax.set_xlim(*xlim)
    ax.set_ylim(*ylim)
    ax.axis("off")
    ax.fill_between(xlim, ylim[1], ylim[0], color=TEAL, lw=0)
    for pts, col in layers:
        x = [p[0] for p in pts] + [xlim[1]]
        y = [p[1] for p in pts] + [pts[-1][1]]
        ax.fill_between(x, y, ylim[0], step="post", color=col, lw=0)
    span = ylim[0] - ylim[1]
    ax.vlines(ticks, ylim[0] - 0.033 * span, ylim[0] + 0.033 * span, color="black", lw=3.1, clip_on=False)
    labels = ["5", "4", "3", "2", "1"]
    for m, l in zip(mids, labels):
        ax.text(m, ylim[0] + 0.038 * span, l, ha="center", va="center", fontsize=14.6, fontweight="bold")
    return ax


def pca(fig, box, xlim, ylim, groups):
    ax = px_axes(fig, *box)
    ax.set_xlim(*xlim)
    ax.set_ylim(*ylim)
    ax.set_xticks([])
    ax.set_yticks([])
    for s in ax.spines.values():
        s.set_linewidth(1.0)
        s.set_color("#333333")
    for pts, col in groups:
        a = np.array(pts)
        ax.scatter(a[:, 0], a[:, 1], s=21, color=col, linewidths=0)
    return ax


fig = plt.figure(figsize=(14, 10), dpi=300)

ancestry(fig, (292, 147, 1922, 988), (38, 1498), (1433, 45),
         [(pepo_yellow + end_to_panel(pepo_end_yellow), YELLOW),
          (pepo_purple + end_to_panel(pepo_end_purple), PURPLE),
          (pepo_salmon + end_to_panel(pepo_end_salmon), SALMON),
          (pepo_blue + end_to_panel(pepo_end_blue), BLUE)], pepo_ticks, pepo_mid)
ancestry(fig, (306, 1112, 1912, 1953), (50, 1489), (1425, 36),
         [(mosch_yellow, YELLOW), (mosch_purple, PURPLE), (mosch_salmon, SALMON), (mosch_blue, BLUE)], mosch_ticks, mosch_mid)


def maxi_layer(left, mid, right):
    return crop_to_panel(left, 35.8) + mid + crop_to_panel(right, 1012.5)


ancestry(fig, (297, 2078, 1918, 2920), (42, 1495), (1435, 30),
         [(maxi_layer(maxi_left_yellow, maxi_mid_yellow, maxi_right_yellow), YELLOW),
          (maxi_layer(maxi_left_purple, maxi_mid_purple, maxi_right_purple), PURPLE),
          (maxi_layer(maxi_left_salmon, maxi_mid_salmon, maxi_right_salmon), SALMON),
          (maxi_layer(maxi_left_blue, maxi_mid_blue, maxi_right_blue), BLUE)], maxi_ticks, maxi_mid)

GREEN, ARAB, ORANGE, EUR, NAM, PINK = region_cols
pca(fig, (2353, 164, 3462, 815), (67, 1457), (1492, 75),
    [(pc1_pink, PINK), (pc1_yellow, EUR), (pc1_orange, ORANGE), (pc1_arab, ARAB), (pc1_green, GREEN), (pc1_blue, NAM)])
pca(fig, (2353, 1130, 3462, 1782), (44, 959), (1485, 65),
    [(pc2_yellow, EUR), (pc2_arab, ARAB), (pc2_green, GREEN), (pc2_orange, ORANGE), (pc2_blue, NAM), (pc2_pink, PINK)])
pca(fig, (2353, 2095, 3462, 2747), (67, 1457), (1497, 77),
    [(pc3_arab, ARAB), (pc3_green, GREEN), (pc3_pink, PINK), (pc3_blue, NAM), (pc3_orange, ORANGE), (pc3_yellow, EUR)])


def label(x, y, s, size, **kw):
    fig.text(x / W, 1 - y / H, s, fontsize=size, ha="center", va="center", **kw)


label(524, 54, "A.", 23)
label(2389, 75, "B.", 23)
label(59, 584, "C. pepo", 23.6, style="italic", rotation=90)
label(59, 1552, "C. moschata", 23.6, style="italic", rotation=90)
label(59, 2518, "C. maxima", 23.6, style="italic", rotation=90)
label(2905, 892, "24%", 18)
label(2905, 1857, "9%", 18)
label(2905, 2822, "7%", 18)
label(2274, 489, "3%", 18, rotation=90)
label(2274, 1453, "4%", 18, rotation=90)
label(2274, 2421, "5%", 18, rotation=90)
label(2849, 2961, "PC1", 23)
label(2155, 1491, "PC2", 23, rotation=90)

# legend, placed by hand
leg = px_axes(fig, 3520, 1340, 4200, 1780)
leg.set_xlim(3520, 4200)
leg.set_ylim(1780, 1340)
leg.axis("off")
for i, (name, col) in enumerate(zip(regions, region_cols)):
    yy = 1375 + i * 72.2
    leg.scatter([3559], [yy], s=58, color=col, linewidths=0)
    leg.text(3633, yy + 3, name, fontsize=14.4, va="center", ha="left")
fig.text(3526 / W, 1 - 1270 / H, "Region", fontsize=18, va="center", ha="left")

fig.savefig("out.png", dpi=300)
